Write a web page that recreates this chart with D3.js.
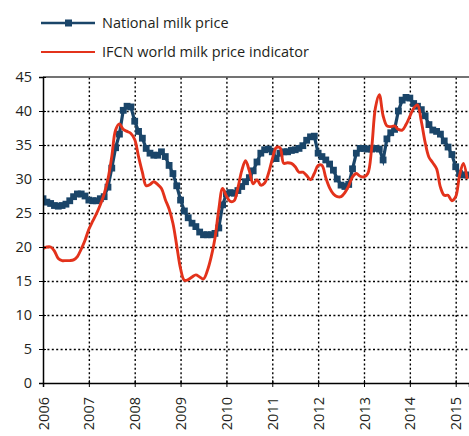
<!DOCTYPE html>
<html>
<head>
<meta charset="utf-8">
<script src="https://cdn.jsdelivr.net/npm/d3@7"></script>
<style>
  body { margin: 0; background: #fff; }
  svg text { font-family: "Open Sans", sans-serif; fill: #231f20; }
</style>
</head>
<body>
<div id="chart"></div>
<script>
// monthly values, Jan 2006 .. Apr 2015
const startYear = 2006;
const nationalPrice = [
  27.1, 26.6, 26.4, 26.1, 26.0, 26.1, 26.3, 26.8, 27.4, 27.8, 27.8, 27.5,
  26.9, 26.8, 26.8, 27.1, 27.4, 28.8, 31.6, 34.6, 36.6, 40.1, 40.7, 40.6,
  38.5, 37.0, 36.0, 34.5, 33.8, 33.5, 33.5, 34.0, 33.3, 32.0, 30.8, 29.0,
  26.9, 25.3, 24.3, 23.5, 23.0, 22.2, 21.8, 21.8, 21.8, 22.0, 22.8, 26.2,
  27.8, 28.0, 27.9, 28.3, 28.9, 29.6, 30.2, 31.2, 32.5, 33.8, 34.3, 34.4,
  34.0, 33.0, 33.8, 34.0, 34.0, 34.2, 34.3, 34.5, 34.9, 35.7, 36.2, 36.3,
  33.8, 33.3, 32.8, 32.2, 31.3, 30.0, 29.1, 28.9, 29.2, 31.5, 33.8, 34.5,
  34.5, 34.4, 34.4, 34.5, 34.4, 32.8, 35.9, 36.8, 37.3, 40.0, 41.6, 42.0,
  41.9, 41.1, 40.7, 40.2, 39.3, 38.0, 37.2, 37.0, 36.6, 35.6, 34.7, 33.6,
  31.8, 30.8, 30.6, 30.6
];
const ifcnPrice = [
  19.8, 20.0, 20.0, 19.4, 18.3, 18.0, 18.0, 18.0, 18.1, 18.6, 19.7, 21.0,
  22.6, 23.8, 24.9, 26.2, 27.8, 30.0, 33.3, 37.2, 38.1, 37.3, 37.0, 36.7,
  35.8, 33.3, 31.0, 29.0, 29.2, 29.6, 29.2, 28.6, 27.0, 25.6, 23.5, 20.2,
  16.8, 15.1, 15.2, 15.6, 15.9, 15.6, 15.3, 16.5, 18.5, 21.3, 25.5, 28.6,
  27.5, 26.7, 26.8, 28.7, 31.2, 32.7, 31.2, 29.3, 29.9, 29.1, 29.4, 30.8,
  32.9, 34.6, 34.6, 32.3, 32.4, 32.3, 31.8, 31.0, 31.0, 30.5, 29.9, 30.8,
  32.0, 32.0, 30.2, 28.7, 27.8, 27.4, 27.4, 28.0, 29.0, 30.3, 30.8, 30.4,
  30.3, 30.8, 34.5, 40.5, 42.4, 39.3, 37.8, 37.7, 37.8, 37.3, 37.2, 38.0,
  39.2, 40.4, 40.9, 38.5, 35.4, 33.2, 32.4, 31.5, 28.8, 27.6, 27.6, 26.8,
  27.4, 30.5, 32.3, 30.0
];
const yearTicks = [2006, 2007, 2008, 2009, 2010, 2011, 2012, 2013, 2014, 2015];
const valueTicks = [0, 5, 10, 15, 20, 25, 30, 35, 40, 45];
const seriesNames = ["National milk price", "IFCN world milk price indicator"];

const width = 469, height = 436;
const margin = {top: 77, right: 0, bottom: 53, left: 43};
const navy = "#1a4569", red = "#e3321b";

const svg = d3.select("#chart").append("svg")
  .attr("width", width)
  .attr("height", height);

const x = d3.scaleLinear()
  .domain([2006, 2015.29])
  .range([margin.left, width - margin.right]);
const y = d3.scaleLinear()
  .domain([0, 45])
  .range([height - margin.bottom, margin.top]);

const toPoints = vals => vals.map((v, i) => ({t: startYear + i / 12, v}));
const national = toPoints(nationalPrice);
const ifcn = toPoints(ifcnPrice);

// gridlines
svg.append("g")
  .attr("transform", `translate(0,${height - margin.bottom})`)
  .call(d3.axisBottom(x).tickValues(yearTicks.slice(1)).tickFormat("")
    .tickSize(-(height - margin.bottom - margin.top)))
  .call(g => g.select(".domain").remove())
  .call(g => g.selectAll("line").attr("stroke", "#000")
    .attr("stroke-width", 1.4).attr("stroke-dasharray", "2,2.4"));

svg.append("g")
  .attr("transform", `translate(${margin.left},0)`)
  .call(d3.axisLeft(y).tickValues(valueTicks.slice(1, -1)).tickFormat("")
    .tickSize(-(width - margin.left - margin.right)))
  .call(g => g.select(".domain").remove())
  .call(g => g.selectAll("line").attr("stroke", "#000")
    .attr("stroke-width", 1.4).attr("stroke-dasharray", "2,2.4"));

// top border
svg.append("line")
  .attr("x1", margin.left).attr("x2", width)
  .attr("y1", y(45)).attr("y2", y(45))
  .attr("stroke", "#444").attr("stroke-width", 1.3);

// series
svg.append("clipPath").attr("id", "plot-clip")
  .append("rect")
  .attr("x", margin.left).attr("y", margin.top - 10)
  .attr("width", width - margin.left).attr("height", height - margin.top - margin.bottom + 10);

const line = d3.line()
  .x(d => x(d.t))
  .y(d => y(d.v));

const plot = svg.append("g").attr("clip-path", "url(#plot-clip)");

plot.append("path")
  .attr("d", line.curve(d3.curveLinear)(national))
  .attr("fill", "none")
  .attr("stroke", navy)
  .attr("stroke-width", 3.2);

plot.selectAll("rect.marker")
  .data(national)
  .join("rect")
  .attr("class", "marker")
  .attr("x", d => x(d.t) - 3.4)
  .attr("y", d => y(d.v) - 3.4)
  .attr("width", 6.8)
  .attr("height", 6.8)
  .attr("fill", navy);

plot.append("path")
  .attr("d", line.curve(d3.curveCatmullRom)(ifcn))
  .attr("fill", "none")
  .attr("stroke", red)
  .attr("stroke-width", 2.9);

// axes
svg.append("g")
  .attr("transform", `translate(${margin.left},0)`)
  .call(d3.axisLeft(y).tickValues(valueTicks).tickSize(4).tickPadding(7))
  .call(g => g.select(".domain").attr("stroke", "#000").attr("stroke-width", 1.5))
  .call(g => g.selectAll(".tick line").attr("stroke", "#000").attr("x2", 3).attr("x1", -4))
  .call(g => g.selectAll(".tick text").attr("font-size", 14.5)
    .attr("font-family", "Open Sans, sans-serif").attr("fill", "#231f20"));

svg.append("g")
  .attr("transform", `translate(0,${height - margin.bottom})`)
  .call(d3.axisBottom(x).tickValues(yearTicks).tickFormat(d3.format("d")).tickSize(4))
  .call(g => g.select(".domain").attr("stroke", "#000").attr("stroke-width", 1.5))
  .call(g => g.selectAll(".tick line").attr("stroke", "#000").attr("y1", -3).attr("y2", 4))
  .call(g => g.selectAll(".tick text")
    .attr("font-size", 14.5)
    .attr("font-family", "Open Sans, sans-serif")
    .attr("fill", "#231f20")
    .attr("transform", "rotate(-90)")
    .attr("text-anchor", "end")
    .attr("x", -14)
    .attr("y", 0)
    .attr("dy", "0.35em"));

// legend
const legend = svg.append("g");
seriesNames.forEach((name, i) => {
  const ly = 23 + i * 29;
  const g = legend.append("g").attr("transform", `translate(41,${ly})`);
  g.append("line")
    .attr("x1", 0).attr("x2", 54)
    .attr("stroke", i === 0 ? navy : red)
    .attr("stroke-width", i === 0 ? 2.6 : 2.2);
  if (i === 0) {
    g.append("rect").attr("x", 24).attr("y", -3.5)
      .attr("width", 7).attr("height", 7).attr("fill", navy);
  }
  g.append("text")
    .attr("x", 61).attr("y", 0).attr("dy", "0.35em")
    .attr("font-size", 14.5)
    .text(name);
});
</script>
</body>
</html>
